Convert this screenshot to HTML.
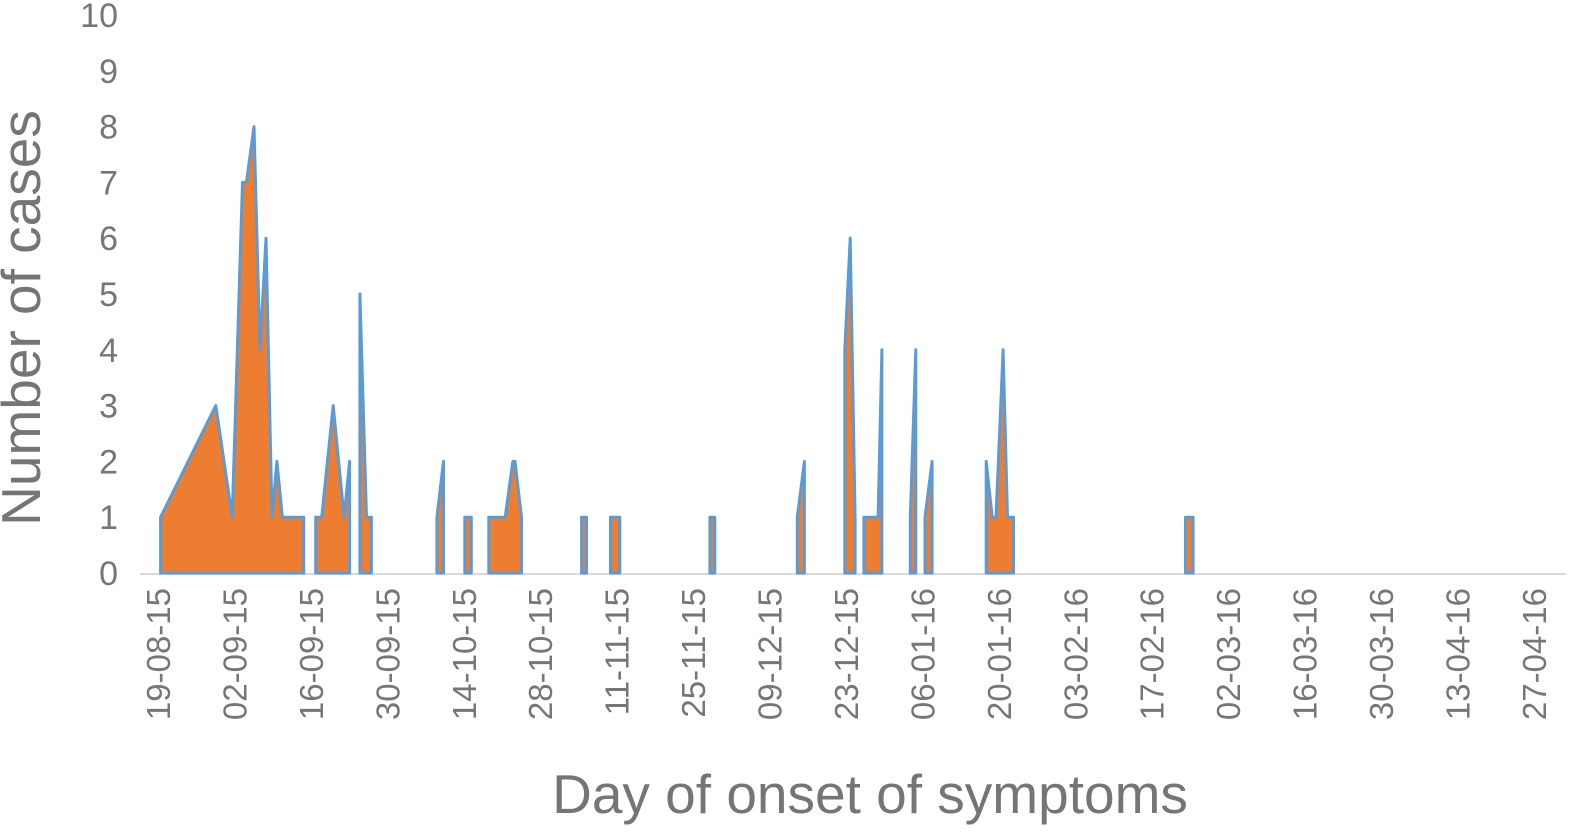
<!DOCTYPE html>
<html><head><meta charset="utf-8"><style>
html,body{margin:0;padding:0;background:#fff;}
svg{display:block;font-family:"Liberation Sans",sans-serif;}
</style></head><body>
<svg id="chart" width="1587" height="834" viewBox="0 0 1587 834">
<g id="plot"></g>
<g id="yticks"></g>
<g id="xticks"></g>
<text transform="translate(40,318) rotate(-90)" text-anchor="middle" font-size="55" fill="#757575">Number of cases</text>
<text x="870" y="813" text-anchor="middle" font-size="55" fill="#757575">Day of onset of symptoms</text>
</svg>
<script>
// Each group: days since 19-08-15 and case counts (area drops to 0 between groups)
const groupDays = [
  [0.3, 10.4, 13.4, 15.3, 16, 17.4, 18.5, 19.6, 20.7, 21.6, 22.6, 26.5],
  [28.7, 29.8, 31.9, 33.9, 34.9],
  [36.8, 38, 38.9],
  [50.9, 52.1],
  [56.0, 57.2],
  [60.4, 63.4, 64.8, 65.2, 66.4],
  [77.4, 78.3],
  [82.7, 84.4],
  [100.9, 101.8],
  [116.9, 118.2],
  [125.6, 126.6, 127.5],
  [129.1, 131.7, 132.4],
  [137.6, 138.6],
  [140.3, 141.6],
  [151.5, 152.6, 153.3, 154.6, 155.4, 156.5],
  [188.0, 189.4]
];
const groupValues = [
  [1, 3, 1, 7, 7, 8, 4, 6, 1, 2, 1, 1],
  [1, 1, 3, 1, 2],
  [5, 1, 1],
  [1, 2],
  [1, 1],
  [1, 1, 2, 2, 1],
  [1, 1],
  [1, 1],
  [1, 1],
  [1, 2],
  [4, 6, 1],
  [1, 1, 4],
  [1, 4],
  [1, 2],
  [2, 1, 1, 4, 1, 1],
  [1, 1]
];
const xTickLabels = ["19-08-15","02-09-15","16-09-15","30-09-15","14-10-15","28-10-15","11-11-15","25-11-15","09-12-15","23-12-15","06-01-16","20-01-16","03-02-16","17-02-16","02-03-16","16-03-16","30-03-16","13-04-16","27-04-16"];
const yTickLabels = [0,1,2,3,4,5,6,7,8,9,10];

const NS = "http://www.w3.org/2000/svg";
const X0 = 159, PXD = 5.46, Y0 = 573, PXU = 55.8;
const xs = d => X0 + d * PXD;
const ys = v => Y0 - v * PXU;

const plot = document.getElementById('plot');
const axis = document.createElementNS(NS, 'line');


axis.setAttribute('x1', 140); axis.setAttribute('x2', 1566);
axis.setAttribute('y1', Y0 + 1); axis.setAttribute('y2', Y0 + 1);
axis.setAttribute('stroke', '#d9d9d9'); axis.setAttribute('stroke-width', 2);
plot.appendChild(axis);

groupDays.forEach((days, gi) => {
  const vals = groupValues[gi];
  let pts = days.map((d, i) => xs(d).toFixed(1) + ',' + ys(vals[i]).toFixed(1));
  const first = xs(days[0]).toFixed(1) + ',' + Y0;
  const last = xs(days[days.length - 1]).toFixed(1) + ',' + Y0;
  const poly = document.createElementNS(NS, 'polygon');
  
  
  poly.setAttribute('points', [first].concat(pts, [last]).join(' '));
  poly.setAttribute('fill', '#ed7d31');
  poly.setAttribute('stroke', '#5b9bd5');
  poly.setAttribute('stroke-width', 3);
  poly.setAttribute('stroke-linejoin', 'round');
  plot.appendChild(poly);
});

const yt = document.getElementById('yticks');
yTickLabels.forEach(v => {
  const t = document.createElementNS(NS, 'text');
  
  
  t.setAttribute('x', 118); t.setAttribute('y', ys(v) + 12);
  t.setAttribute('text-anchor', 'end');
  t.setAttribute('font-size', 34);
  t.setAttribute('fill', '#767676');
  t.textContent = v;
  yt.appendChild(t);
});

const xt = document.getElementById('xticks');
xTickLabels.forEach((lab, i) => {
  const x = xs(i * 14) + 11;
  const t = document.createElementNS(NS, 'text');
  
  
  t.setAttribute('transform', 'translate(' + x.toFixed(1) + ',588) rotate(-90)');
  t.setAttribute('text-anchor', 'end');
  t.setAttribute('font-size', 33);
  t.setAttribute('fill', '#767676');
  t.textContent = lab;
  xt.appendChild(t);
});
</script>
</body></html>
